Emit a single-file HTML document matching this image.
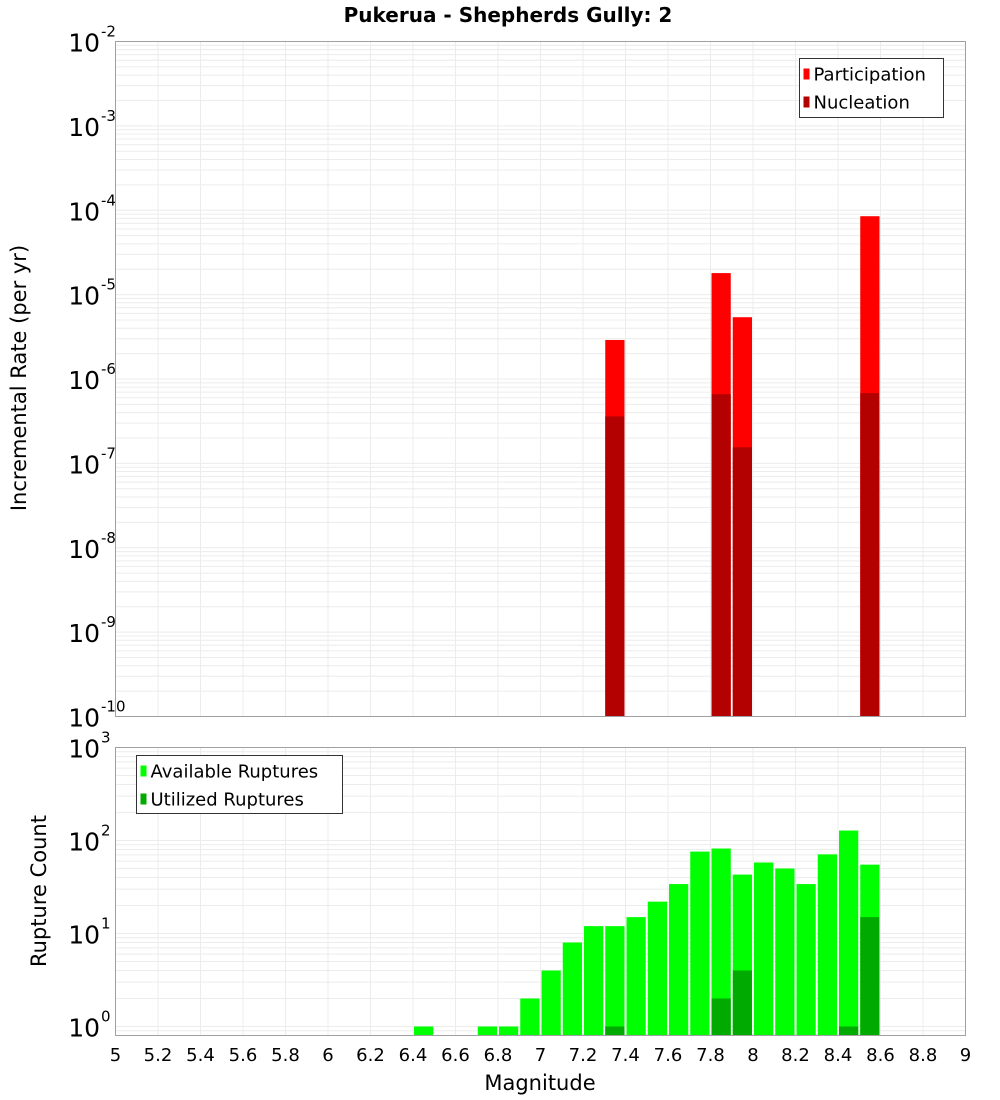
<!DOCTYPE html>
<html><head><meta charset="utf-8"><style>
html,body{margin:0;padding:0;background:#fff;}
svg{display:block;font-family:"DejaVu Sans","Liberation Sans",sans-serif;}
</style></head><body>
<svg id="c" width="1000" height="1100" xmlns="http://www.w3.org/2000/svg">
<text x="508" y="22" text-anchor="middle" font-size="20" font-weight="bold">Pukerua - Shepherds Gully: 2</text>
<text transform="translate(26,378) rotate(-90)" text-anchor="middle" font-size="21">Incremental Rate (per yr)</text>
<text transform="translate(46,891) rotate(-90)" text-anchor="middle" font-size="21">Rupture Count</text>
<text x="540" y="1090" text-anchor="middle" font-size="21">Magnitude</text>
<g id="top"></g><g id="bot"></g>
</svg>
<script>
const xTicks=[5,5.2,5.4,5.6,5.8,6,6.2,6.4,6.6,6.8,7,7.2,7.4,7.6,7.8,8,8.2,8.4,8.6,8.8,9];
const xTickLabels=["5","5.2","5.4","5.6","5.8","6","6.2","6.4","6.6","6.8","7","7.2","7.4","7.6","7.8","8","8.2","8.4","8.6","8.8","9"];
const rateMags=[7.35,7.85,7.95,8.55];
const participation=[2.9e-6,1.8e-5,5.4e-6,8.5e-5];
const nucleation=[3.6e-7,6.6e-7,1.55e-7,6.8e-7];
const countMags=[6.45,6.75,6.85,6.95,7.05,7.15,7.25,7.35,7.45,7.55,7.65,7.75,7.85,7.95,8.05,8.15,8.25,8.35,8.45,8.55];
const available=[1,1,1,2,4,8,12,12,15,22,34,76,82,43,58,50,34,71,128,55];
const utilizedMags=[7.35,7.85,7.95,8.45,8.55];
const utilized=[1,2,4,1,15];
const topExps=[-2,-3,-4,-5,-6,-7,-8,-9,-10];
const botExps=[3,2,1,0];

const NS="http://www.w3.org/2000/svg";
const L=115.5,R=965.5;
const x=m=>L+(m-5)/4*(R-L);
const T={top:41.5,bot:716.5,min:-10,max:-2};
const B={top:747.5,bot:1035.5,min:Math.log10(0.8),max:3};
const yT=v=>T.bot-(Math.log10(v)-T.min)/(T.max-T.min)*(T.bot-T.top);
const yB=v=>B.bot-(Math.log10(v)-B.min)/(B.max-B.min)*(B.bot-B.top);
function el(p,t,a){const e=document.createElementNS(NS,t);for(const k in a)e.setAttribute(k,a[k]);p.appendChild(e);return e;}
const bw=(x(5.1)-x(5))-2;

function panel(g,P,yf,exps,lo,hi){
  el(g,'rect',{x:L,y:P.top,width:R-L,height:P.bot-P.top,fill:'#fff'});
  for(let e=lo;e<=hi;e++){for(let k=1;k<10;k++){const v=k*Math.pow(10,e);const yy=yf(v);if(yy<P.top-0.5||yy>P.bot+0.5)continue;
    const ln=el(g,'line',{x1:L,x2:R,y1:yy,y2:yy,stroke:'#ececec','stroke-width':1});
    
    }}
  xTicks.forEach(t=>{const ln=el(g,'line',{x1:x(t),x2:x(t),y1:P.top,y2:P.bot,stroke:'#ececec','stroke-width':1});
    
    });
  exps.forEach(e=>{const yy=yf(Math.pow(10,e));const t=el(g,'text',{x:100,y:yy+10,'text-anchor':'end','font-size':25});
    
    
    t.textContent='10';
    const s=el(g,'text',{x:101,y:yy-5,'font-size':15});
    
    
    s.textContent=String(e);});
}
const gt=document.getElementById('top'),gb=document.getElementById('bot');
panel(gt,T,yT,topExps,-10,-3);
panel(gb,B,yB,botExps,-1,2);

rateMags.forEach((m,i)=>{
  const r=el(gt,'rect',{x:x(m)-bw/2,y:yT(participation[i]),width:bw,height:T.bot-yT(participation[i]),fill:'#ff0000'});
  
  
  const n=el(gt,'rect',{x:x(m)-bw/2,y:yT(nucleation[i]),width:bw,height:T.bot-yT(nucleation[i]),fill:'#b30000'});
  
  
});
countMags.forEach((m,i)=>{
  const r=el(gb,'rect',{x:x(m)-bw/2,y:yB(available[i]),width:bw,height:B.bot-yB(available[i]),fill:'#00ff00'});
  
  
});
utilizedMags.forEach((m,i)=>{
  const r=el(gb,'rect',{x:x(m)-bw/2,y:yB(utilized[i]),width:bw,height:B.bot-yB(utilized[i]),fill:'#00aa00'});
  
  
});
[[gt,T],[gb,B]].forEach(([g,P])=>{const f=el(g,'rect',{x:L,y:P.top,width:R-L,height:P.bot-P.top,fill:'none',stroke:'#a0a0a0','stroke-width':1});
  
  });
xTicks.forEach((t,i)=>{const tx=el(gb,'text',{x:x(t),y:1061,'text-anchor':'middle','font-size':18});
  
  
  tx.textContent=xTickLabels[i];});

function legend(g,x0,y0,w,h,items,name){
  const lg=el(g,'g',{});
  
  
  el(lg,'rect',{x:x0,y:y0,width:w,height:h,fill:'#fff',stroke:'#333','stroke-width':1});
  items.forEach((it,i)=>{const yy=y0+15+i*28;
    el(lg,'rect',{x:x0+4,y:yy-5,width:6,height:11,fill:it[1]});
    const t=el(lg,'text',{x:x0+14,y:yy+7,'font-size':18});
    
    
    t.textContent=it[0];});
}
legend(gt,799.5,58.5,144,59,[['Participation','#ff0000'],['Nucleation','#b30000']],'top-legend');
legend(gb,136.5,755.5,206,58,[['Available Ruptures','#00ff00'],['Utilized Ruptures','#00aa00']],'bottom-legend');
</script>
</body></html>
